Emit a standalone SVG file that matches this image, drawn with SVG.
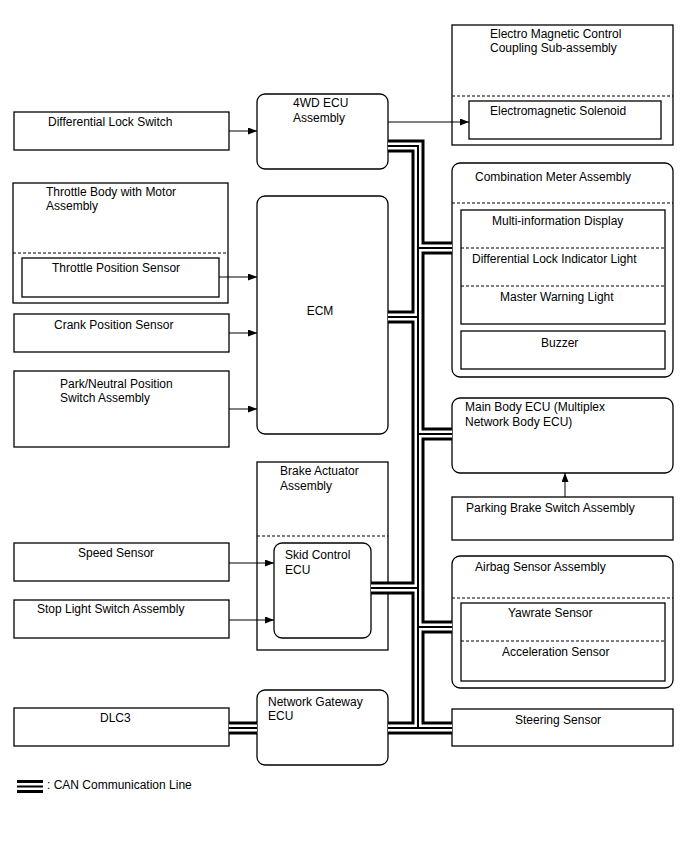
<svg xmlns="http://www.w3.org/2000/svg" width="688" height="852" viewBox="0 0 688 852">
<style>
text{font-family:"Liberation Sans",Arial,sans-serif;font-size:12px;fill:#000}
.b{fill:#fff;stroke:#000;stroke-width:1.3}
.d{stroke:#000;stroke-width:1.2;stroke-dasharray:3,2;fill:none}
.a{stroke:#000;stroke-width:1;fill:none;marker-end:url(#ah)}
.c1{stroke:#000;stroke-width:13;fill:none}
.c2{stroke:#fff;stroke-width:7;fill:none}
.c3{stroke:#000;stroke-width:2;fill:none}
</style>
<defs>
<marker id="ah" markerUnits="userSpaceOnUse" markerWidth="9" markerHeight="7" refX="9" refY="3.5" orient="auto"><path d="M0,0 L9,3.5 L0,7 z" fill="#000"/></marker>
<path id="can" d="M388,146 H418 V728 M388,728 H452 M418,248 H452 M388,317 H418 M418,434 H452 M371,588 H418 M418,627 H452 M229,728 H257 M17,786.5 H43"/>
</defs>
<rect width="688" height="852" fill="#fff"/>

<g id="diff-lock-switch"><rect class="b" x="14" y="112" width="215" height="38"/><text x="48" y="126">Differential Lock Switch</text></g>
<g id="ecu-4wd"><rect class="b" x="257" y="94" width="131" height="75" rx="8"/><text x="293" y="107">4WD ECU</text><text x="293" y="122">Assembly</text></g>
<g id="coupling"><rect class="b" x="452" y="25" width="221" height="120"/><text x="490" y="38">Electro Magnetic Control</text><text x="490" y="52">Coupling Sub-assembly</text><line class="d" x1="452" y1="96" x2="673" y2="96"/>
<g id="solenoid"><rect class="b" x="469" y="101" width="192" height="38"/><text x="490" y="115">Electromagnetic Solenoid</text></g></g>

<g id="throttle-body"><rect class="b" x="13" y="183" width="215" height="120"/><text x="46" y="196">Throttle Body with Motor</text><text x="46" y="210">Assembly</text><line class="d" x1="13" y1="253" x2="228" y2="253"/>
<g id="throttle-sensor"><rect class="b" x="22" y="258" width="197" height="39"/><text x="52" y="272">Throttle Position Sensor</text></g></g>
<g id="ecm"><rect class="b" x="257" y="196" width="131" height="238" rx="8"/><text x="320" y="315" text-anchor="middle">ECM</text></g>
<g id="crank"><rect class="b" x="14" y="314" width="215" height="38"/><text x="54" y="329">Crank Position Sensor</text></g>
<g id="park-neutral"><rect class="b" x="14" y="371" width="215" height="76"/><text x="60" y="388">Park/Neutral Position</text><text x="60" y="402">Switch Assembly</text></g>

<g id="brake-actuator"><rect class="b" x="257" y="462" width="131" height="188"/><text x="280" y="475">Brake Actuator</text><text x="280" y="490">Assembly</text><line class="d" x1="257" y1="536" x2="388" y2="536"/>
<g id="skid-ecu"><rect class="b" x="274" y="543" width="97" height="95" rx="8"/><text x="285" y="559">Skid Control</text><text x="285" y="574">ECU</text></g></g>
<g id="speed-sensor"><rect class="b" x="14" y="543" width="215" height="38"/><text x="78" y="557">Speed Sensor</text></g>
<g id="stop-light"><rect class="b" x="14" y="600" width="215" height="38"/><text x="37" y="613">Stop Light Switch Assembly</text></g>
<g id="gateway"><rect class="b" x="257" y="690" width="131" height="75" rx="8"/><text x="268" y="706">Network Gateway</text><text x="268" y="720">ECU</text></g>
<g id="dlc3"><rect class="b" x="14" y="708" width="215" height="38"/><text x="100" y="722">DLC3</text></g>

<g id="combination-meter"><rect class="b" x="452" y="163" width="221" height="214" rx="8"/><text x="475" y="181">Combination Meter Assembly</text><line class="d" x1="452" y1="203" x2="673" y2="203"/>
<g id="meter-inner"><rect class="b" x="461" y="210" width="204" height="114"/><text x="492" y="225">Multi-information Display</text><line class="d" x1="461" y1="248" x2="665" y2="248"/><text x="472" y="263">Differential Lock Indicator Light</text><line class="d" x1="461" y1="286" x2="665" y2="286"/><text x="500" y="301">Master Warning Light</text></g>
<g id="buzzer"><rect class="b" x="461" y="331" width="204" height="38"/><text x="541" y="347">Buzzer</text></g></g>
<g id="main-body"><rect class="b" x="452" y="398" width="221" height="75" rx="8"/><text x="465" y="411">Main Body ECU (Multiplex</text><text x="465" y="426">Network Body ECU)</text></g>
<g id="parking-brake"><rect class="b" x="452" y="497" width="221" height="43"/><text x="466" y="512">Parking Brake Switch Assembly</text></g>
<g id="airbag"><rect class="b" x="452" y="556" width="221" height="132" rx="8"/><text x="475" y="571">Airbag Sensor Assembly</text><line class="d" x1="452" y1="598" x2="673" y2="598"/>
<g id="airbag-inner"><rect class="b" x="461" y="603" width="204" height="78"/><text x="508" y="617">Yawrate Sensor</text><line class="d" x1="461" y1="641" x2="665" y2="641"/><text x="502" y="656">Acceleration Sensor</text></g></g>
<g id="steering"><rect class="b" x="452" y="709" width="221" height="37"/><text x="515" y="724">Steering Sensor</text></g>

<g id="connectors">
<use href="#can" class="c1"/><use href="#can" class="c2"/><use href="#can" class="c3"/>
<line class="a" x1="229" y1="131" x2="257" y2="131"/>
<line class="a" x1="388" y1="122" x2="469" y2="122"/>
<line class="a" x1="219" y1="277" x2="257" y2="277"/>
<line class="a" x1="229" y1="333" x2="257" y2="333"/>
<line class="a" x1="229" y1="409" x2="257" y2="409"/>
<line class="a" x1="229" y1="563" x2="274" y2="563"/>
<line class="a" x1="229" y1="620" x2="274" y2="620"/>
<line class="a" x1="565" y1="497" x2="565" y2="473"/>
</g>
<text x="47" y="789">: CAN Communication Line</text>
</svg>
